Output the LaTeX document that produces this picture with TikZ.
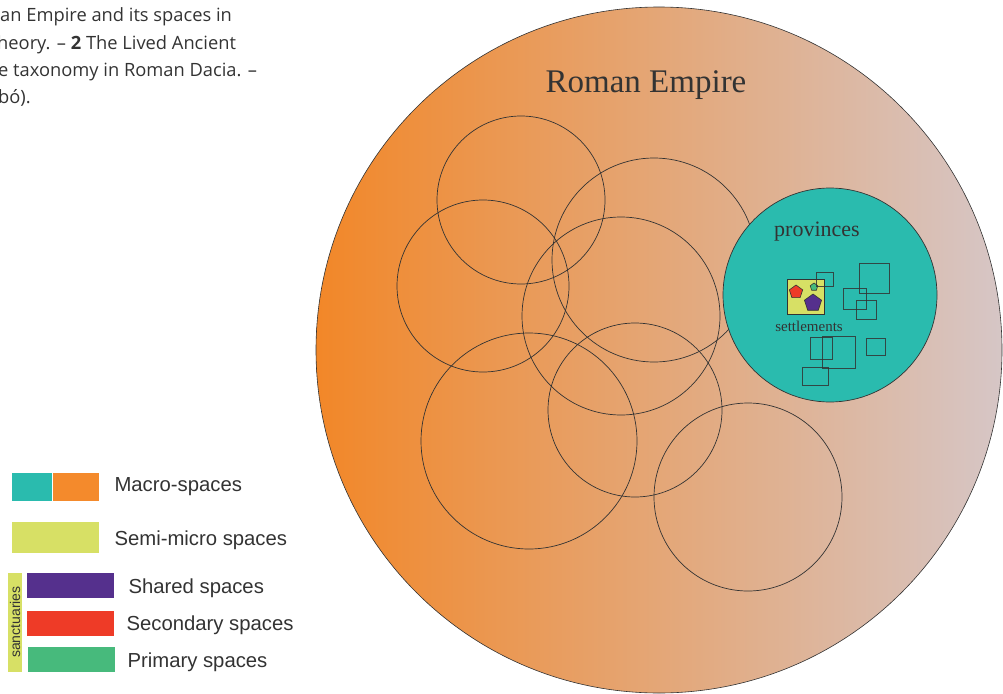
\documentclass[tikz,border=0pt]{standalone}
\usepackage{fontspec}
\setmainfont{Liberation Serif}
\newfontfamily\legendfont{Liberation Sans}
\newfontfamily\captionfont{Open Sans}
\usetikzlibrary{positioning}
\usetikzlibrary{shapes.geometric}

\definecolor{empireorange}{RGB}{242,135,40}
\definecolor{empiregrey}{RGB}{214,198,198}
\definecolor{macroteal}{RGB}{42,187,174}
\definecolor{macroorange}{RGB}{244,138,44}
\definecolor{semiyellow}{RGB}{215,224,101}
\definecolor{sharedpurple}{RGB}{85,48,141}
\definecolor{secondaryred}{RGB}{238,59,39}
\definecolor{primarygreen}{RGB}{71,186,124}
\definecolor{outline}{RGB}{51,51,51}

\tikzset{
	ring/.style = {draw = outline, line width = 0.7pt},
	plot/.style = {draw = outline, line width = 1pt, opacity = 0.85},
	shrine/.style = {regular polygon, regular polygon sides = 5, draw = outline, line width = 0.6pt, inner sep = 0pt},
	legendtext/.style = {anchor = west, text = outline, font = \legendfont\fontsize{20.3}{20.3}\selectfont},
	captiontext/.style = {anchor = base west, text = outline, inner sep = 0pt, font = \captionfont\fontsize{18.3}{18.3}\selectfont}
}

\begin{document}
\begin{tikzpicture}[x = 1pt, y = -1pt]
					\useasboundingbox (0, 0) rectangle (1003, 693);
					\node (capa) at (0, 22) [captiontext] {an Empire and its spaces in};
					\node (capb) at (-3, 49) [captiontext] {heory. – \textbf{2} The Lived Ancient};
					\node (capc) at (-2, 76) [captiontext] {e taxonomy in Roman Dacia. –};
					\node (capd) at (-2, 103) [captiontext] {bó).};
					\shadedraw[left color = empireorange, right color = empiregrey, draw = outline, line width = 0.6pt] (659, 350) circle (343pt);
					\node (empire) at (646, 85) [text = outline, font = \fontsize{33}{33}\selectfont] {Roman Empire};
					\draw[ring] (521, 200) circle (84pt);
					\draw[ring] (483, 286) circle (86pt);
					\draw[ring] (654, 260) circle (102pt);
					\draw[ring] (621, 316) circle (99pt);
					\draw[ring] (529, 441) circle (108pt);
					\draw[ring] (635, 410) circle (87pt);
					\draw[ring] (748, 497) circle (94pt);
					\filldraw[fill = macroteal, draw = outline, line width = 0.7pt] (830, 295) circle (107pt);
					\node (provinces) at (817, 232) [text = outline, font = \fontsize{22}{22}\selectfont] {provinces};
					\filldraw[fill = semiyellow, draw = outline, line width = 1pt] (787, 279) rectangle (824, 314);
					\node (secondary) at (796, 292) [shrine, fill = secondaryred, minimum size = 14pt] {};
					\node (primary) at (814, 287) [shrine, fill = primarygreen, minimum size = 8pt] {};
					\node (shared) at (813, 303) [shrine, fill = sharedpurple, minimum size = 18pt] {};
					\node (settlements) at (809, 326) [text = outline, font = \fontsize{15}{15}\selectfont] {settlements};
					\draw[plot] (816, 272) rectangle (833, 286);
					\draw[plot] (859, 263) rectangle (889, 293);
					\draw[plot] (843, 288) rectangle (866, 309);
					\draw[plot] (856, 300) rectangle (876, 319);
					\draw[plot] (810, 337) rectangle (832, 359);
					\draw[plot] (822, 336) rectangle (855, 368);
					\draw[plot] (866, 338) rectangle (885, 355);
					\draw[plot] (802, 367) rectangle (828, 385);
					\fill[macroteal] (12, 473) rectangle (52, 501);
					\fill[macroorange] (53, 473) rectangle (99, 501);
					\node (macro) at (111, 487) [legendtext] {Macro-spaces};
					\fill[semiyellow] (12, 522) rectangle (99, 553);
					\node (semimicro) at (111, 540) [legendtext] {Semi-micro spaces};
					\fill[semiyellow] (8, 573) rectangle (22, 672);
					\node (sanctuaries) at (15, 622) [rotate = 90, text = outline, inner sep = 0pt, font = \legendfont\fontsize{14}{14}\selectfont] {sanctuaries};
					\fill[sharedpurple] (27, 573) rectangle (114, 598);
					\node (sharedkey) at (125, 588) [legendtext] {Shared spaces};
					\fill[secondaryred] (27, 611) rectangle (114, 636);
					\node (secondarykey) at (123, 625) [legendtext] {Secondary spaces};
					\fill[primarygreen] (28, 647) rectangle (115, 672);
					\node (primarykey) at (124, 662) [legendtext] {Primary spaces};
				\end{tikzpicture}
\end{document}
